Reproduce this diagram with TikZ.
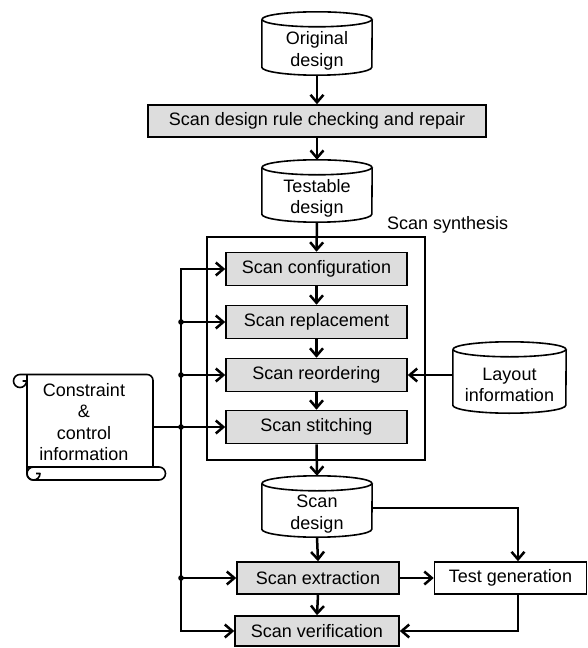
\documentclass[tikz,border=0pt]{standalone}
\usepackage{fontspec}
\setmainfont{Liberation Sans}
\usetikzlibrary{arrows.meta}
\definecolor{boxgray}{RGB}{221,221,221}
\newcommand\drawcyl[2]{%
 \draw[outl] ([yshift=7.5pt]#1.north west) -- ([yshift=8pt]#1.south west)
   arc[start angle=180,end angle=360,x radius=#2,y radius=8pt] -- ([yshift=7.5pt]#1.north east);
 \draw[outl] ([yshift=7.5pt]#1.north) ellipse[x radius=#2,y radius=7.5pt];
}
\begin{document}
\begin{tikzpicture}[x=1pt,y=1pt,
 every node/.style={font=\fontsize{18}{21.5}\selectfont, align=center, inner sep=0pt},
 gbox/.style={draw, line width=1.6pt, fill=boxgray, minimum height=33pt},
 wbox/.style={draw, line width=1.6pt, fill=white, minimum height=32pt},
 arr/.style={line width=2.5pt, -{Straight Barb[length=7.5pt,width=13pt]}},
 thinl/.style={line width=1.3pt},
 outl/.style={line width=1.6pt, line join=round}]
\useasboundingbox (0,0) rectangle (588,-648);

% scan synthesis frame
\node (syn) [draw, line width=1.5pt, minimum width=218pt, minimum height=223pt] at (316,-348.5) {};
\node (synl) [anchor=west] at (387,-225) {Scan synthesis};

% cylinders
\node (od) [minimum width=110pt, minimum height=48pt] at (317,-51) {Original\\design};
\drawcyl{od}{55pt}
\node (td) [minimum width=110pt, minimum height=47pt] at (317,-198.5) {Testable\\design};
\drawcyl{td}{55pt}
\node (lay) [minimum width=113pt, minimum height=56pt] at (509.5,-385) {Layout\\information};
\drawcyl{lay}{56.5pt}
\node (sd) [minimum width=110pt, minimum height=46pt] at (317,-514) {Scan\\design};
\drawcyl{sd}{55pt}

% boxes
\node (drc) [gbox, minimum width=338pt, minimum height=32pt] at (317,-121) {Scan design rule checking and repair};
\node (cfg) [gbox, minimum width=181pt] at (316.5,-269) {Scan configuration};
\node (rep) [gbox, minimum width=181pt] at (316.5,-322) {Scan replacement};
\node (ro)  [gbox, minimum width=181pt] at (316.5,-375) {Scan reordering};
\node (st)  [gbox, minimum width=181pt] at (316.5,-427) {Scan stitching};
\node (ex)  [gbox, minimum width=162pt, minimum height=32pt] at (318,-578) {Scan extraction};
\node (ver) [gbox, minimum width=164pt, minimum height=30pt] at (317,-631) {Scan verification};
\node (tg)  [wbox, minimum width=152pt] at (510.5,-578) {Test generation};

% constraint scroll
\node (con) [minimum width=138pt, minimum height=92pt] at (84,-422) {Constraint\\\&\\control\\information};
\draw[outl] (20,-374.5) -- (147,-374.5) arc[start angle=90,end angle=0,radius=6pt] -- (153,-467);
\draw[outl] (20,-374.5) arc[start angle=90,end angle=360,radius=6.5pt] -- ++(-4,0);
\draw[outl] (27,-374.5) -- (27,-474) arc[start angle=180,end angle=270,radius=6pt] -- (159,-480)
  arc[start angle=-90,end angle=90,radius=6.5pt] -- (27,-467);
\draw[outl] (33.5,-467) arc[start angle=90,end angle=360,radius=6.5pt] -- ++(-4,0);

% main flow
\draw[arr] (od.south) -- (drc.north);
\draw[arr] (drc.south) -- ([yshift=15pt]td.north);
\draw[arr] (td.south) -- (cfg.north);
\draw[arr] (cfg.south) -- (rep.north);
\draw[arr] (rep.south) -- (ro.north);
\draw[arr] (ro.south) -- (st.north);
\draw[arr] (st.south) -- ([yshift=15pt]sd.north);
\draw[arr] (sd.south) -- (ex.north);
\draw[arr] (ex.south) -- (ver.north);
\draw[arr] (ex.east) -- (tg.west);
\draw[arr] (lay.west |- ro.east) -- (ro.east);

% test generation connections
\coordinate (c1) at (518,-508);
\coordinate (c2) at (518,-631);
\draw[thinl] (sd.east |- c1) -- (c1);
\draw[arr] ([yshift=0.6pt]c1) -- (c1 |- tg.north);
\draw[thinl] (c1 |- tg.south) -- (c2);
\draw[arr] ([xshift=1pt]c2) -- (ver.east);

% bus
\coordinate (bt) at (181,-269);
\coordinate (bb) at (181,-631);
\draw[thinl] (bt) -- (bb);
\draw[arr] ([xshift=-0.6pt]bt) -- (cfg.west);
\draw[arr] (bt |- rep.west) -- (rep.west);
\draw[arr] (bt |- ro.west) -- (ro.west);
\draw[thinl] (con.east |- st.west) -- (bt |- st.west);
\draw[arr] (bt |- st.west) -- (st.west);
\draw[arr] (bb |- ex.west) -- (ex.west);
\draw[arr] ([xshift=-0.6pt]bb) -- (ver.west);
\foreach \n in {rep,ro,st,ex} \fill (bt |- \n.west) circle (2.8pt);
\end{tikzpicture}
\end{document}
